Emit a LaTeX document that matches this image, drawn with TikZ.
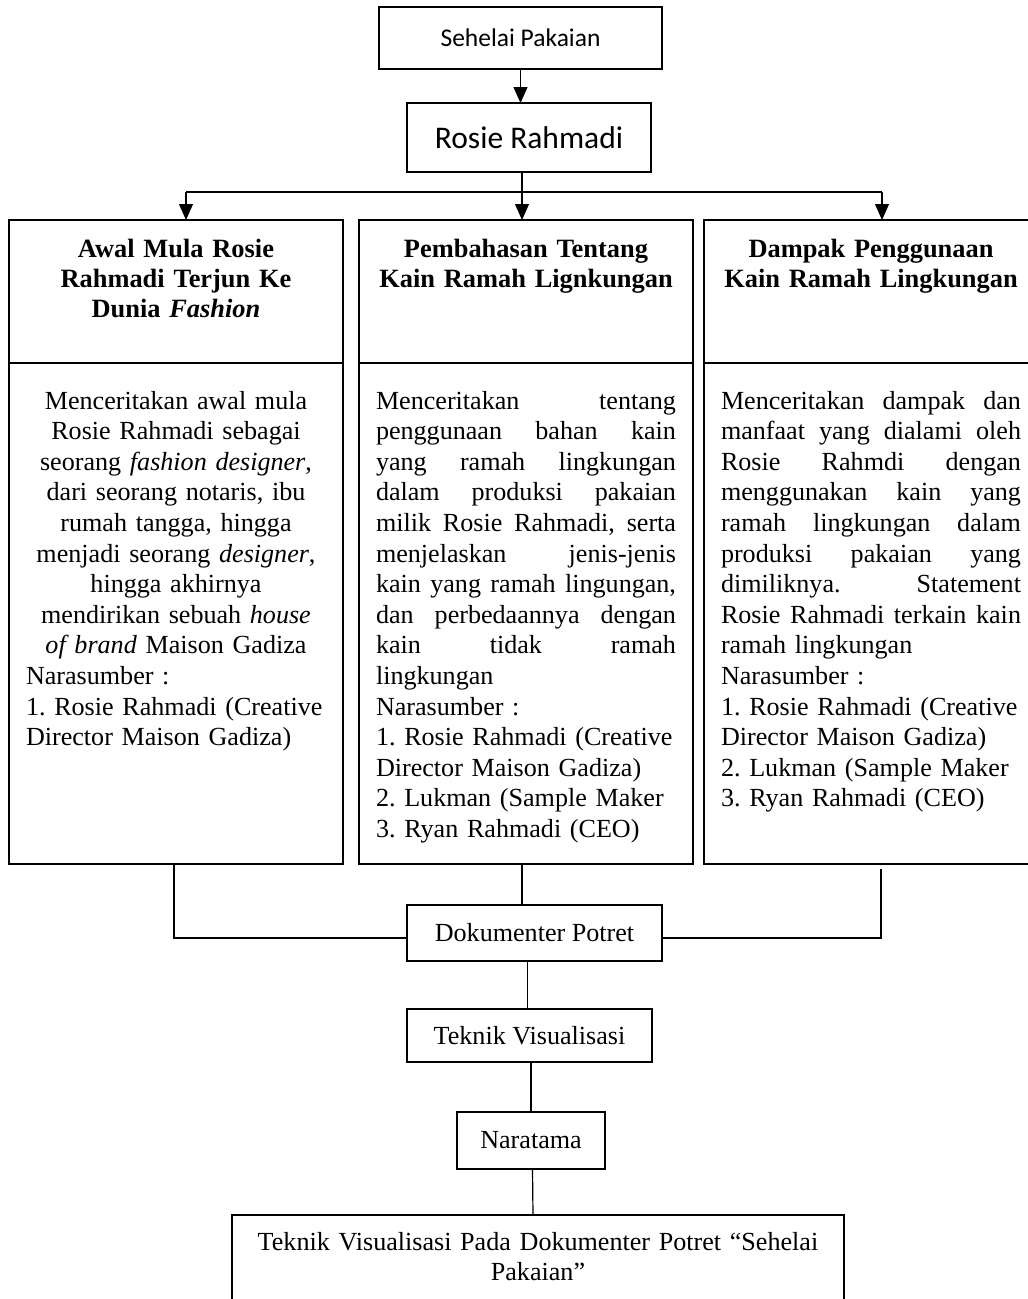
\documentclass[tikz,border=0pt]{standalone}
\usepackage{fontspec}
\setmainfont{Liberation Serif}
\newfontfamily\calibri{Carlito}
\usetikzlibrary{positioning,arrows.meta}

\begin{document}
\begin{tikzpicture}[x=1pt, y=-1pt, >={Triangle[length=16pt,width=14pt]},
    every node/.style={font=\fontsize{26.1}{30.6}\selectfont\frenchspacing},
    box/.style={draw, rectangle, line width=1.8pt, outer sep=0pt},
    headbox/.style={box, anchor=north west, text width=300pt, inner xsep=17pt, inner ysep=0pt,
        text height=37pt, text depth=106pt, align=center, font=\fontsize{26.4}{30}\selectfont\bfseries},
    bodybox/.style={box, below=0pt of #1, text width=300pt, inner xsep=17pt, inner ysep=0pt,
        text height=46pt, text depth=455pt},
    link/.style={line width=1.2pt}]
    \useasboundingbox (0,0) rectangle (1028,1299);

    \node[box, minimum width=283pt, minimum height=62pt, inner sep=0pt, font=\calibri\fontsize{25.5}{30}\selectfont] (sehelai) at (520.5,38) {Sehelai Pakaian};
    \node[box, minimum width=244pt, minimum height=69pt, inner sep=0pt, font=\calibri\fontsize{31.5}{36}\selectfont] (rosie) at (529,137.5) {Rosie Rahmadi};

    % three columns
    \node[headbox] (lhead) at (9,220) {Awal Mula Rosie\\ Rahmadi Terjun Ke\\ Dunia \textit{Fashion}};
    \node[headbox] (mhead) at (359,220) {Pembahasan Tentang\\ Kain Ramah Lignkungan};
    \node[headbox] (rhead) at (704,220) {Dampak Penggunaan\\ Kain Ramah Lingkungan};

    \node[bodybox=lhead] (lbody) {\centering Menceritakan awal mula\\ Rosie Rahmadi sebagai\\
        seorang \textit{fashion designer},\\ dari seorang notaris, ibu\\ rumah tangga, hingga\\
        menjadi seorang \textit{designer},\\ hingga akhirnya\\ mendirikan sebuah \textit{house}\\
        \textit{of brand} Maison Gadiza\par
        \raggedright Narasumber :\\ 1. Rosie Rahmadi (Creative\\ Director Maison Gadiza)};
    \node[bodybox=mhead] (mbody) {\raggedright
        Menceritakan\hfill tentang\\
        penggunaan\hfill bahan\hfill kain\\
        yang\hfill ramah\hfill lingkungan\\
        dalam\hfill produksi\hfill pakaian\\
        milik\hfill Rosie\hfill Rahmadi,\hfill serta\\
        menjelaskan\hfill jenis-jenis\\
        kain\hfill yang\hfill ramah\hfill lingungan,\\
        dan\hfill perbedaannya\hfill dengan\\
        kain\hfill tidak\hfill ramah\\
        lingkungan\\ Narasumber :\\ 1. Rosie Rahmadi (Creative\\ Director Maison Gadiza)\\
        2. Lukman (Sample Maker\\ 3. Ryan Rahmadi (CEO)};
    \node[bodybox=rhead] (rbody) {\raggedright
        Menceritakan\hfill dampak\hfill dan\\
        manfaat\hfill yang\hfill dialami\hfill oleh\\
        Rosie\hfill Rahmdi\hfill dengan\\
        menggunakan\hfill kain\hfill yang\\
        ramah\hfill lingkungan\hfill dalam\\
        produksi\hfill pakaian\hfill yang\\
        dimiliknya.\hfill Statement\\
        Rosie\hfill Rahmadi\hfill terkain\hfill kain\\
        ramah lingkungan\\ Narasumber :\\ 1. Rosie Rahmadi (Creative\\ Director Maison Gadiza)\\
        2. Lukman (Sample Maker\\ 3. Ryan Rahmadi (CEO)};

    \node[box, minimum width=255pt, minimum height=56pt, inner sep=0pt] (dok) at (534.5,933) {Dokumenter Potret};
    \node[box, minimum width=245pt, minimum height=53pt, inner sep=0pt] (teknik) at (529.5,1035.5) {Teknik Visualisasi};
    \node[box, minimum width=148pt, minimum height=57pt, inner sep=0pt] (naratama) at (531,1140.5) {Naratama};
    \node[box, anchor=north west, text width=572pt, inner xsep=20pt, inner ysep=0pt, text height=35pt,
        text depth=120pt, align=center] (final) at (232,1215) {Teknik Visualisasi Pada Dokumenter Potret “Sehelai\\ Pakaian”};

    \coordinate (split) at (522,192);
    \coordinate (lsplit) at (186,192);
    \coordinate (rsplit) at (882,192);

    \draw[link, ->] (sehelai.south) -- (sehelai.south |- rosie.north);
    \draw[link] (rosie.south -| split) -- (split);
    \draw[link] (lsplit) -- (rsplit);
    \draw[link, ->] (lsplit) -- (lsplit |- lhead.north);
    \draw[link, ->] (split) -- (split |- mhead.north);
    \draw[link, ->] (rsplit) -- (rsplit |- rhead.north);

    \draw[link] ([yshift=-5pt]dok.west) -| ([xshift=-2pt]lbody.south);
    \draw[link] ([yshift=-5pt]dok.east) -| ([shift={(10pt,-5pt)}]rbody.south);
    \draw[link] ([xshift=-4pt]mbody.south) -- ([xshift=-4pt]mbody.south |- dok.north);
    \draw[link] ([xshift=-7pt]dok.south) -- ([xshift=-2pt]teknik.north);
    \draw[link] ([xshift=1.5pt]teknik.south) -- (naratama.north);
    \draw[link] ([xshift=1.5pt]naratama.south) -- ([xshift=-5pt]final.north);
\end{tikzpicture}
\end{document}
